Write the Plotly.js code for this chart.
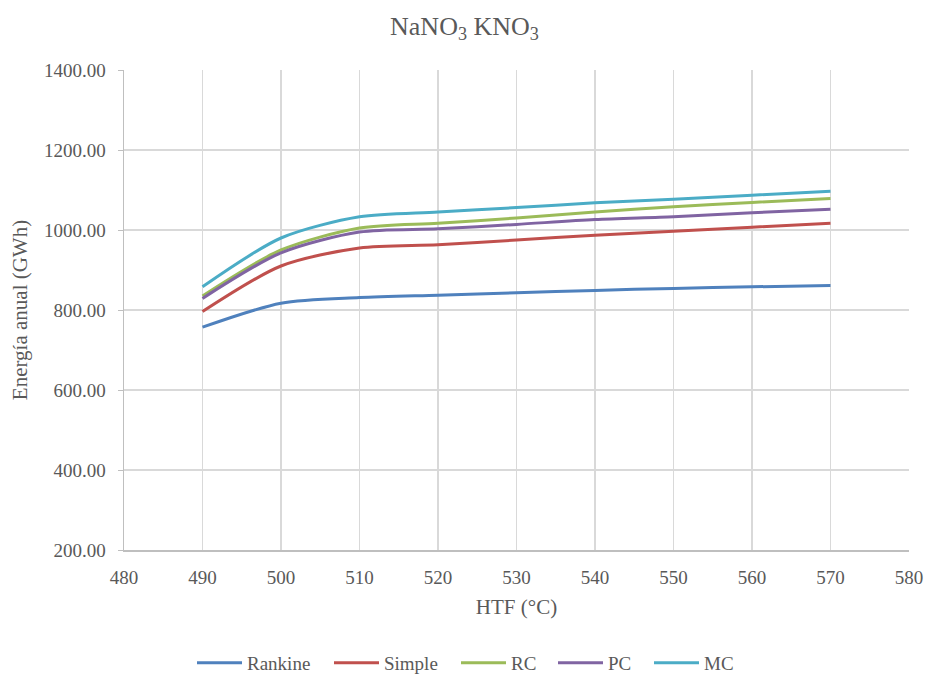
<!DOCTYPE html>
<html>
<head>
<meta charset="utf-8">
<script src="https://cdn.plot.ly/plotly-3.0.1.min.js"></script>
<style>
html,body{margin:0;padding:0;background:#fff;}
#chart{width:929px;height:677px;}
</style>
</head>
<body>
<div id="chart"></div>
<script>
const htf = [490, 500, 510, 520, 530, 540, 550, 560, 570];
const rankine = [757, 817, 831, 837, 843, 849, 854, 858, 861];
const simple = [796, 910, 955, 963, 975, 987, 997, 1007, 1017];
const rc = [835, 950, 1005, 1017, 1030, 1045, 1058, 1069, 1079];
const pc = [829, 943, 995, 1003, 1014, 1026, 1033, 1043, 1052];
const mc = [858, 980, 1033, 1045, 1056, 1068, 1077, 1087, 1097];
const seriesNames = ['Rankine', 'Simple', 'RC', 'PC', 'MC'];
const seriesColors = ['#4F81BD', '#C0504D', '#9BBB59', '#8064A2', '#4BACC6'];
const seriesData = [rankine, simple, rc, pc, mc];
const legendIds = ['legend', 'legend2', 'legend3', 'legend4', 'legend5'];
const legendX = [192, 329, 456, 553, 649];

const traces = seriesData.map((ys, i) => ({
  x: htf, y: ys, name: seriesNames[i], type: 'scatter', mode: 'lines',
  legend: legendIds[i],
  line: {color: seriesColors[i], width: 3, shape: 'spline', smoothing: 0.8}
}));

const fam = 'Liberation Serif, Times New Roman, serif';
const gray = '#595959';
const f = (s) => ({family: fam, size: s, color: gray});
const layout = {
  width: 929, height: 677,
  margin: {l: 124, r: 20, t: 70, b: 127, autoexpand: false},
  paper_bgcolor: '#fff', plot_bgcolor: '#fff',
  font: f(19),
  title: {text: 'NaNO<sub>3</sub> KNO<sub>3</sub>', x: 0.5, xanchor: 'center', y: 0.962, yanchor: 'middle',
    font: f(26)},
  xaxis: {
    range: [480, 580], dtick: 10, tick0: 480,
    showgrid: true, gridcolor: '#D9D9D9', gridwidth: 1.5,
    showline: true, linecolor: '#BFBFBF', linewidth: 1.5,
    ticks: '', ticklabelstandoff: 10,
    zeroline: false, automargin: false,
    tickfont: f(19),
    title: {text: 'HTF (°C)', font: f(21), standoff: 12}
  },
  yaxis: {
    range: [200, 1400], dtick: 200, tick0: 200, tickformat: '.2f',
    showgrid: true, gridcolor: '#D9D9D9', gridwidth: 1.5,
    showline: true, linecolor: '#BFBFBF', linewidth: 1.5,
    ticks: 'outside', ticklen: 5, tickcolor: '#BFBFBF', ticklabelstandoff: 8,
    zeroline: false, automargin: false,
    tickfont: f(19),
    title: {text: 'Energía anual (GWh)', font: f(21), standoff: 10}
  },
  showlegend: true
};
legendIds.forEach((id, i) => {
  layout[id] = {orientation: 'h', x: legendX[i] / 929, xanchor: 'left', xref: 'container',
    y: 14 / 677, yanchor: 'middle', yref: 'container',
    font: f(19), itemwidth: 45, bgcolor: 'rgba(0,0,0,0)'};
});
Plotly.newPlot('chart', traces, layout, {displayModeBar: false, staticPlot: true});
</script>
</body>
</html>
